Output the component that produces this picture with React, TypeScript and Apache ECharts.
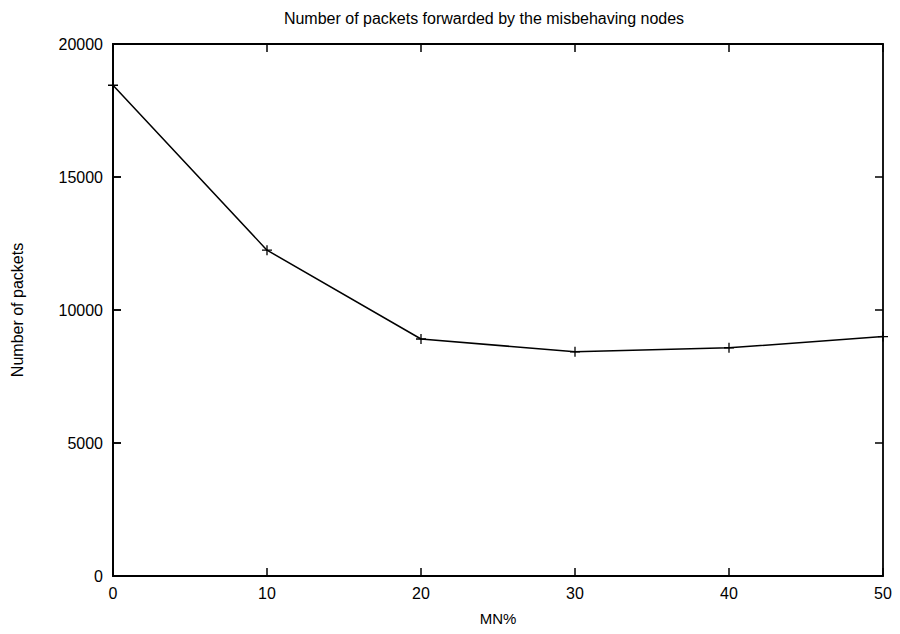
import React, { useEffect, useRef } from "react";
import * as echarts from "echarts";

const title = "Number of packets forwarded by the misbehaving nodes";
const xName = "MN%";
const yName = "Number of packets";
const mnPercent = [0, 10, 20, 30, 40, 50];
const packets = [18450, 12250, 8910, 8430, 8580, 9000];

const FONT = "'Liberation Sans', Arial, Helvetica, sans-serif";

export default function App() {
  const ref = useRef<HTMLDivElement>(null);
  useEffect(() => {
    if (!ref.current) return;
    const chart = echarts.init(ref.current, undefined, { renderer: "svg" });
    const tickStyle = () => ({ show: true, inside: true, length: 8, lineStyle: { color: "#000", width: 1.5 } });
    const axisLine = () => ({ show: true, onZero: false, lineStyle: { color: "#000", width: 1.8 } });
    const fmt = (v: number) => String(v);
    chart.setOption({
      animation: false,
      backgroundColor: "#fff",
      title: {
        text: title,
        left: 479,
        top: 5,
        textAlign: "center",
        textStyle: { fontFamily: FONT, fontSize: 16, fontWeight: "normal", color: "#000" },
      },
      grid: { left: 113, right: 17, top: 44, bottom: 58, show: false },
      xAxis: [
        {
          type: "value",
          min: 0,
          max: 50,
          interval: 10,
          name: xName,
          nameLocation: "middle",
          nameGap: 35,
          nameTextStyle: { fontFamily: FONT, fontSize: 15, color: "#000" },
          axisLine: axisLine(),
          axisTick: tickStyle(),
          axisLabel: { fontFamily: FONT, fontSize: 16, color: "#000", margin: 9, formatter: fmt },
          splitLine: { show: false },
        },
        {
          type: "value",
          position: "top",
          min: 0,
          max: 50,
          interval: 10,
          axisLine: axisLine(),
          axisTick: tickStyle(),
          axisLabel: { show: false },
          splitLine: { show: false },
        },
      ],
      yAxis: [
        {
          type: "value",
          min: 0,
          max: 20000,
          interval: 5000,
          name: yName,
          nameLocation: "middle",
          nameGap: 88,
          nameTextStyle: { fontFamily: FONT, fontSize: 16, color: "#000" },
          axisLine: axisLine(),
          axisTick: tickStyle(),
          axisLabel: { fontFamily: FONT, fontSize: 16, color: "#000", margin: 10, formatter: fmt },
          splitLine: { show: false },
        },
        {
          type: "value",
          position: "right",
          min: 0,
          max: 20000,
          interval: 5000,
          axisLine: axisLine(),
          axisTick: tickStyle(),
          axisLabel: { show: false },
          splitLine: { show: false },
        },
        {
          type: "value",
          position: "left",
          offset: 0,
          min: 0,
          max: 20000,
          interval: 5000,
          axisLine: axisLine(),
          axisTick: tickStyle(),
          axisLabel: { show: false },
          splitLine: { show: false },
        },
      ],
      series: [
        {
          type: "line",
          data: mnPercent.map((x, i) => [x, packets[i]]),
          xAxisIndex: 0,
          yAxisIndex: 0,
          symbol: "path://M5,0L5,10M0,5L10,5",
          symbolSize: 10,
          showSymbol: true,
          itemStyle: { color: "none", borderColor: "#000", borderWidth: 1.3 },
          lineStyle: { color: "#000", width: 1.5 },
          z: 3,
        },
      ],
    });
    return () => chart.dispose();
  }, []);
  return <div ref={ref} style={{ width: 900, height: 634, position: "absolute", left: 0, top: 0 }} />;
}
